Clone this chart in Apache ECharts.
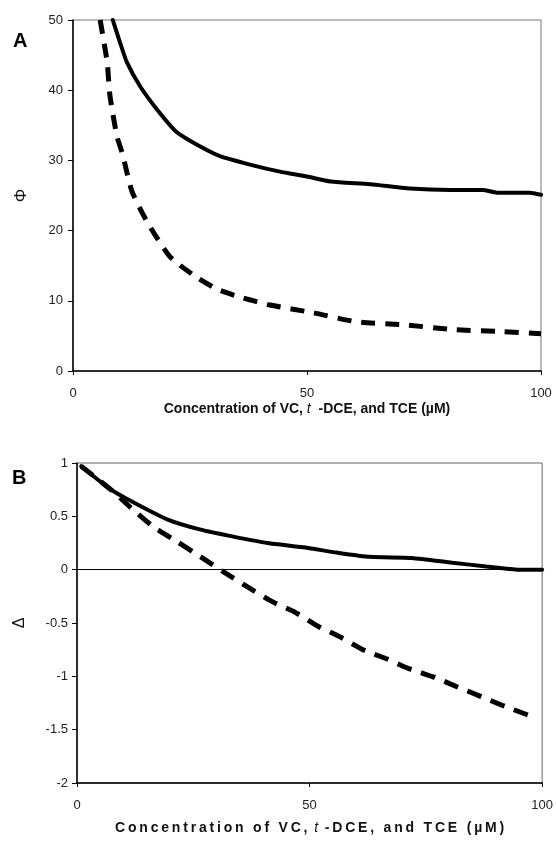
<!DOCTYPE html>
<html>
<head>
<meta charset="utf-8">
<script src="https://cdn.jsdelivr.net/npm/echarts@6.0.0/dist/echarts.min.js"></script>
<style>
  html, body { margin: 0; padding: 0; background: #fff; }
  #chart { width: 556px; height: 841px; }
</style>
</head>
<body>
<div id="chart"></div>
<script>
// Panel A: Phi vs concentration
const phiSolidX = [8.5, 10, 11.5, 14.3, 17.9, 22.2, 27.1, 31.4, 37.8, 44.2, 50, 55, 63.5, 72, 80.6, 87.6, 90.6, 97.6, 100];
const phiSolidY = [50, 46.9, 44.0, 40.6, 37.3, 34.0, 32.0, 30.6, 29.4, 28.4, 27.7, 27.0, 26.6, 26.0, 25.8, 25.8, 25.4, 25.4, 25.1];
const phiDashX = [5.8, 7.3, 7.9, 9.4, 10.5, 12.6, 15.8, 20.7, 26.5, 31, 36.3, 42.1, 51.3, 60.7, 70.5, 81.2, 91.9, 100];
const phiDashY = [50, 44, 39.2, 33.4, 31.1, 25.6, 21.3, 16.3, 13.3, 11.6, 10.4, 9.4, 8.3, 7.0, 6.6, 5.9, 5.6, 5.3];

// Panel B: Delta vs concentration
const deltaSolidX = [0.9, 7.3, 12.2, 19.5, 26.6, 33.6, 41, 48.6, 55.9, 63, 72, 80.7, 88, 95, 100];
const deltaSolidY = [0.97, 0.75, 0.63, 0.47, 0.375, 0.31, 0.25, 0.21, 0.16, 0.12, 0.11, 0.065, 0.03, 0.0, 0.0];
const deltaDashX = [0.9, 7.3, 11.6, 16.5, 21.6, 26.6, 31.5, 36.6, 42, 46.9, 51.8, 57, 61.5, 66.8, 71.5, 76.9, 81.8, 86.9, 91.9, 96.8, 99];
const deltaDashY = [0.97, 0.75, 0.58, 0.40, 0.26, 0.12, -0.02, -0.16, -0.30, -0.40, -0.53, -0.64, -0.75, -0.84, -0.93, -1.01, -1.10, -1.19, -1.28, -1.36, -1.39];

const xTicks = [0, 50, 100];
const phiRange = [0, 50, 10];
const deltaRange = [-2, 1, 0.5];

const pairs = (xs, ys) => xs.map((x, i) => [x, ys[i]]);
const font = '"Liberation Sans", Arial, sans-serif';

// bottom title of panel B is letter-spaced
const thin = '\u2009';
const spaced = s => s.split('').join(thin);
const titleB = spaced('Concentration of VC,') + thin + ' {i|t} ' + thin + spaced('-DCE, and TCE (µM)');

const chart = echarts.init(document.getElementById('chart'), null, { renderer: 'canvas' });

const xAxisBase = (gridIndex, nameGap, name, margin) => ({
  type: 'value',
  gridIndex: gridIndex,
  min: xTicks[0],
  max: xTicks[xTicks.length - 1],
  interval: 50,
  name: name,
  nameLocation: 'middle',
  nameGap: nameGap,
  nameTextStyle: {
    fontFamily: font, fontSize: 14, fontWeight: 'bold', color: '#111',
    rich: { i: { fontFamily: font, fontSize: 14, fontStyle: 'italic', fontWeight: 'normal', color: '#111' } }
  },
  axisLine: { onZero: false, lineStyle: { color: '#000', width: 1.5 } },
  axisTick: { show: true, length: 4, lineStyle: { color: '#000', width: 1 } },
  axisLabel: { fontFamily: font, fontSize: 13, color: '#222', margin: margin },
  splitLine: { show: false }
});

const yAxisBase = (gridIndex, range, name, nameGap, margin, nameSize) => ({
  type: 'value',
  gridIndex: gridIndex,
  min: range[0],
  max: range[1],
  interval: range[2],
  name: name,
  nameLocation: 'middle',
  nameRotate: 90,
  nameGap: nameGap,
  nameTextStyle: { fontFamily: font, fontSize: nameSize, color: '#111' },
  axisLine: { onZero: false, lineStyle: { color: '#000', width: 1.5 } },
  axisTick: { show: true, length: 5, lineStyle: { color: '#000', width: 1 } },
  axisLabel: { fontFamily: font, fontSize: 13, color: '#222', margin: margin },
  splitLine: { show: false }
});

const solid = (xi, yi, data, extra) => Object.assign({
  type: 'line',
  xAxisIndex: xi,
  yAxisIndex: yi,
  data: data,
  showSymbol: false,
  smooth: 0.2,
  lineStyle: { color: '#000', width: 4, cap: 'round' },
  z: 3
}, extra || {});

const dashed = (xi, yi, data, dash) => ({
  type: 'line',
  xAxisIndex: xi,
  yAxisIndex: yi,
  data: data,
  showSymbol: false,
  smooth: 0.2,
  lineStyle: { color: '#000', width: 5, type: dash, cap: 'butt' },
  z: 2
});

chart.setOption({
  animation: false,
  backgroundColor: '#fff',
  title: [
    { text: 'A', left: 13, top: 31, padding: 0, textStyle: { fontFamily: font, fontSize: 20, fontWeight: 'bold', color: '#000' } },
    { text: 'B', left: 12, top: 468, padding: 0, textStyle: { fontFamily: font, fontSize: 20, fontWeight: 'bold', color: '#000' } }
  ],
  grid: [
    { left: 73, top: 20, width: 468, height: 351, show: true, borderColor: '#777', borderWidth: 1 },
    { left: 77, top: 463, width: 466, height: 320, show: true, borderColor: '#666', borderWidth: 1 }
  ],
  xAxis: [
    xAxisBase(0, 31, 'Concentration of VC, {i|t}  -DCE, and TCE (µM)', 16),
    xAxisBase(1, 38, titleB, 16)
  ],
  yAxis: [
    yAxisBase(0, phiRange, 'Φ', 43, 10, 17),
    yAxisBase(1, deltaRange, 'Δ', 49, 9, 16)
  ],
  series: [
    solid(0, 0, pairs(phiSolidX, phiSolidY)),
    dashed(0, 0, pairs(phiDashX, phiDashY), [14, 10]),
    solid(1, 1, pairs(deltaSolidX, deltaSolidY), {
      markLine: {
        silent: true,
        symbol: 'none',
        label: { show: false },
        lineStyle: { color: '#000', width: 1, type: 'solid' },
        data: [{ yAxis: 0 }]
      }
    }),
    dashed(1, 1, pairs(deltaDashX, deltaDashY), [15, 10])
  ]
});
</script>
</body>
</html>
